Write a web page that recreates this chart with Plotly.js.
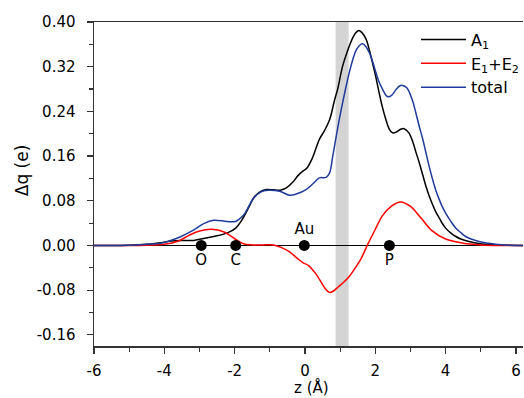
<!DOCTYPE html>
<html>
<head>
<meta charset="utf-8">
<script src="https://cdn.plot.ly/plotly-3.0.1.min.js"></script>
<style>html,body{margin:0;padding:0;background:#fff;}#chart{width:524px;height:398px;}</style>
</head>
<body>
<div id="chart"></div>
<script>
// A1 component
const xA1 = [-6, -5, -4.5, -4.1, -3.8, -3.5, -3.16, -2.96, -2.6, -2.22, -1.97, -1.8, -1.6, -1.46, -1.3, -1.1, -0.9, -0.7, -0.53, -0.35, -0.2, -0.06, 0.05, 0.2, 0.41, 0.55, 0.7, 0.84, 0.93, 1.07, 1.22, 1.36, 1.45, 1.53, 1.62, 1.74, 1.83, 1.92, 2.02, 2.11, 2.2, 2.3, 2.4, 2.49, 2.6, 2.72, 2.82, 2.95, 3.06, 3.15, 3.25, 3.35, 3.44, 3.53, 3.63, 3.72, 3.82, 3.9, 4.0, 4.15, 4.29, 4.45, 4.67, 4.9, 5.14, 5.6, 6.2];
const yA1 = [0, 0.0003, 0.002, 0.005, 0.008, 0.009, 0.009, 0.0115, 0.016, 0.022, 0.031, 0.045, 0.068, 0.085, 0.095, 0.100, 0.0995, 0.099, 0.103, 0.113, 0.125, 0.133, 0.138, 0.155, 0.190, 0.205, 0.225, 0.260, 0.280, 0.321, 0.350, 0.372, 0.381, 0.385, 0.381, 0.369, 0.350, 0.327, 0.300, 0.273, 0.248, 0.2255, 0.208, 0.2016, 0.203, 0.208, 0.209, 0.202, 0.1866, 0.168, 0.148, 0.126, 0.106, 0.089, 0.073, 0.060, 0.049, 0.040, 0.031, 0.022, 0.016, 0.011, 0.007, 0.004, 0.002, 0.0005, 0];
// E1+E2 component
const xE = [-6, -5, -4.5, -4.0, -3.6, -3.3, -3.0, -2.65, -2.3, -2.0, -1.75, -1.5, -1.2, -0.9, -0.7, -0.45, -0.2, -0.05, 0.1, 0.3, 0.5, 0.6, 0.7, 0.8, 0.95, 1.1, 1.24, 1.4, 1.6, 1.77, 2.0, 2.2, 2.45, 2.72, 3.0, 3.3, 3.6, 4.0, 4.5, 5.0, 5.5, 6.2];
const yE = [0, 0, 0.0005, 0.002, 0.008, 0.018, 0.026, 0.029, 0.024, 0.012, 0.003, 0.001, 0.001, 0.001, -0.003, -0.011, -0.024, -0.031, -0.036, -0.050, -0.070, -0.079, -0.084, -0.082, -0.074, -0.066, -0.057, -0.043, -0.023, 0, 0.029, 0.053, 0.070, 0.078, 0.070, 0.049, 0.027, 0.0115, 0.004, 0.001, 0, 0];
// total
const xTot = [-6, -5, -4.5, -4.1, -3.64, -3.16, -2.88, -2.6, -2.22, -1.98, -1.74, -1.46, -1.25, -1.05, -0.72, -0.44, -0.25, 0.03, 0.3, 0.41, 0.6, 0.7, 0.79, 0.93, 1.03, 1.17, 1.27, 1.36, 1.46, 1.55, 1.64, 1.73, 1.83, 1.93, 2.02, 2.11, 2.21, 2.3, 2.37, 2.47, 2.59, 2.68, 2.77, 2.9, 3.06, 3.15, 3.25, 3.35, 3.44, 3.53, 3.63, 3.72, 3.82, 3.9, 4.0, 4.15, 4.29, 4.45, 4.57, 4.75, 4.95, 5.2, 5.42, 5.8, 6.2];
const yTot = [0, 0.0003, 0.002, 0.004, 0.013, 0.028, 0.039, 0.045, 0.043, 0.043, 0.055, 0.085, 0.096, 0.0987, 0.097, 0.090, 0.092, 0.100, 0.115, 0.121, 0.122, 0.130, 0.160, 0.210, 0.243, 0.285, 0.312, 0.333, 0.350, 0.358, 0.361, 0.356, 0.345, 0.328, 0.309, 0.292, 0.279, 0.269, 0.266, 0.269, 0.279, 0.285, 0.2865, 0.282, 0.259, 0.238, 0.213, 0.190, 0.166, 0.142, 0.118, 0.099, 0.082, 0.070, 0.058, 0.043, 0.031, 0.022, 0.016, 0.011, 0.007, 0.004, 0.002, 0.0005, 0];
// atom positions
const atomNames = ['O', 'C', 'Au', 'P'];
const atomZ = [-2.95, -1.97, -0.02, 2.4];
const atomLabelPos = ['bottom center', 'bottom center', 'top center', 'bottom center'];
// shaded band
const bandZ = [0.87, 1.24];
const yTicks = [-0.16, -0.08, 0.00, 0.08, 0.16, 0.24, 0.32, 0.40];
const xTicks = [-6, -4, -2, 0, 2, 4, 6];

const FONT = 'DejaVu Sans, Liberation Sans, Arial, sans-serif';
const lw = 1.5;
const sm = 1;
const traces = [
  {x: xA1, y: yA1, mode: 'lines', name: 'A<sub>1</sub>', line: {color: '#000000', width: lw, shape: 'spline', smoothing: sm}},
  {x: xE, y: yE, mode: 'lines', name: 'E<sub>1</sub>+E<sub>2</sub>', line: {color: '#ff0000', width: lw, shape: 'spline', smoothing: sm}},
  {x: xTot, y: yTot, mode: 'lines', name: 'total', line: {color: '#1f3c9c', width: lw, shape: 'spline', smoothing: sm}},
  {x: atomZ, y: atomZ.map(() => 0), mode: 'markers+text', text: atomNames, textposition: atomLabelPos,
   textfont: {family: FONT, size: 15, color: '#000'}, marker: {color: '#000', size: 11}, showlegend: false, hoverinfo: 'skip', cliponaxis: false}
];

const layout = {
  width: 524, height: 398,
  margin: {l: 94, r: 0, t: 22, b: 52, pad: 0},
  paper_bgcolor: '#fff', plot_bgcolor: '#fff',
  font: {family: FONT, size: 15, color: '#000'},
  showlegend: true,
  legend: {x: 0.75, y: 0.998, xanchor: 'left', yanchor: 'top', bgcolor: 'rgba(0,0,0,0)', borderwidth: 0,
           font: {family: FONT, size: 16, color: '#000'}, itemwidth: 45, tracegroupgap: 0},
  xaxis: {
    range: [-6, 6.2], tickvals: xTicks, ticktext: xTicks.map(String),
    showgrid: false, zeroline: false, showline: true, linecolor: '#333', linewidth: 1.5, mirror: true,
    ticks: 'outside', ticklen: 6, tickwidth: 1.2, tickcolor: '#333',
    minor: {dtick: 1, tick0: -5, ticks: 'outside', ticklen: 4, tickwidth: 1.2, tickcolor: '#333', showgrid: false},
    ticklabelstandoff: 4
  },
  yaxis: {
    range: [-0.18, 0.40], tickvals: yTicks, ticktext: yTicks.map(v => v.toFixed(2)),
    showgrid: false, zeroline: true, zerolinecolor: '#000', zerolinewidth: 1.2,
    showline: true, linecolor: '#333', linewidth: 1.5,
    ticks: 'outside', ticklen: 6, tickwidth: 1.2, tickcolor: '#333',
    minor: {dtick: 0.04, tick0: 0, ticks: 'outside', ticklen: 4, tickwidth: 1.2, tickcolor: '#333', showgrid: false},
    ticklabelstandoff: 8
  },
  annotations: [
    {text: 'Δq (e)', xref: 'paper', yref: 'paper', x: -0.1674, y: 0.543, xanchor: 'center', yanchor: 'middle',
     textangle: -90, showarrow: false, font: {family: FONT, size: 17, color: '#000'}},
    {text: 'z (Å)', xref: 'paper', yref: 'paper', x: 0.507, y: -0.128, xanchor: 'center', yanchor: 'middle',
     showarrow: false, font: {family: FONT, size: 15, color: '#000'}}
  ],
  shapes: [
    {type: 'rect', xref: 'x', yref: 'paper', x0: bandZ[0], x1: bandZ[1], y0: 0, y1: 1, fillcolor: '#d4d4d4', line: {width: 0}, layer: 'below'}
  ]
};

Plotly.newPlot('chart', traces, layout, {displayModeBar: false, staticPlot: true});
</script>
</body>
</html>
